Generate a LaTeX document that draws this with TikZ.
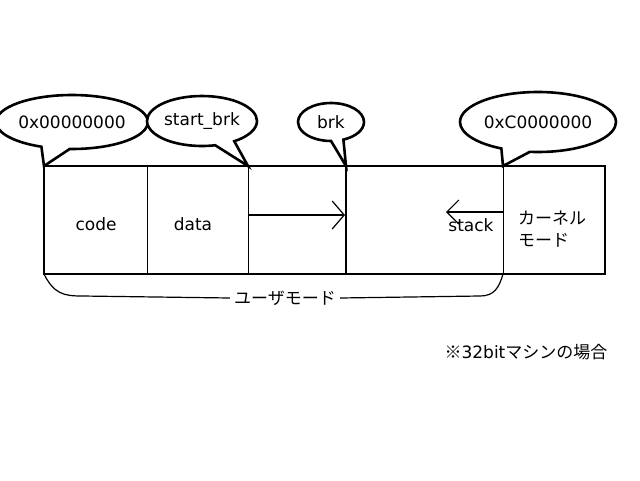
\documentclass[tikz,border=0pt]{standalone}
\usepackage{fontspec}
\setmainfont{DejaVu Sans}
\newfontfamily\jpfont{Noto Sans CJK JP}
\usetikzlibrary{shapes.callouts,arrows.meta}
\begin{document}
\begin{tikzpicture}[x=1pt,y=-1pt,
  cell/.style={draw,line width=1pt,rectangle,anchor=north west,inner sep=0pt,outer sep=0pt,minimum height=108pt},
  lbl/.style={font=\fontsize{17}{20}\selectfont,inner sep=0pt},
  bubble/.style={ellipse callout,draw,line width=2.6pt,fill=white,inner sep=0pt,font=\fontsize{17}{20}\selectfont,callout pointer arc=22},
  growarrow/.style={line width=1.2pt,-{Straight Barb[length=12pt,width=28pt,line width=1.2pt]}}
]
\useasboundingbox (0,0) rectangle (640,480);
% memory cells
\node[cell,minimum width=103pt] (code) at (44,166) {};
\node[cell,minimum width=101pt] (data) at (147,166) {};
\node[cell,minimum width=98pt] (heap) at (248,166) {};
\node[cell,minimum width=157pt] (stackarea) at (346,166) {};
\node[cell,minimum width=102pt] (kernel) at (503,166) {};
\draw[line width=2pt] (code.north west) rectangle (kernel.south east);
\draw[line width=2pt] (heap.north east) -- (heap.south east);
% labels
\node[lbl] (tcode) at (96,224) {code};
\node[lbl] (tdata) at (193,224) {data};
\node[lbl] (tstack) at (471,225) {stack};
\node[lbl,anchor=west,align=left,font=\fontsize{17}{22}\selectfont\jpfont] (tkernel) at (518,229) {カーネル\\モード};
% growth arrows
\coordinate (hs) at (heap.west |- 0,215);
\coordinate (he) at (345,215);
\draw[growarrow] (hs) -- (he);
\coordinate (ss) at (stackarea.east |- 0,212);
\coordinate (se) at (446,212);
\draw[growarrow,-{Straight Barb[length=12pt,width=24pt,line width=1.2pt]}] (ss) -- (se);
% bubbles
\node[bubble,minimum width=140pt,minimum height=54pt,callout absolute pointer={(code.north west)}] (b0) at (72,122) {0x00000000};
\node[bubble,minimum width=110pt,minimum height=50pt,callout absolute pointer={(data.north east)}] (b1) at (202,121) {start\_brk};
\node[bubble,minimum width=66pt,minimum height=38pt,callout absolute pointer={(heap.north east)}] (b2) at (331,122) {brk};
\node[bubble,minimum width=156pt,minimum height=60pt,callout absolute pointer={(stackarea.north east)}] (b3) at (538,122) {0xC0000000};
% user mode brace
\node[lbl,font=\fontsize{17}{20}\selectfont\jpfont] (um) at (285,298) {ユーザモード};
\coordinate (bl) at (82,296);
\coordinate (br) at (480,296);
\draw[line width=1.2pt] (code.south west) .. controls (54,294) and (64,296) .. (bl) -- ([xshift=-4pt]um.west);
\draw[line width=1.2pt] ([xshift=4pt]um.east) -- (br) .. controls (494,296) and (499,288) .. (stackarea.south east);
% note
\node[lbl] (note) at (526,352) {{\jpfont ※}32bit{\jpfont マシンの場合}};
\end{tikzpicture}
\end{document}
